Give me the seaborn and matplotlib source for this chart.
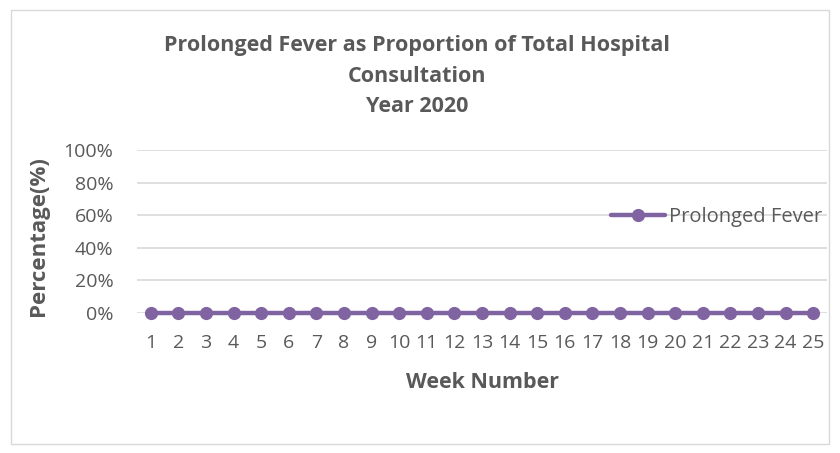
import matplotlib
matplotlib.use("Agg")
import matplotlib.pyplot as plt
import seaborn as sns
import pandas as pd
from matplotlib.patches import Rectangle

weeks = list(range(1, 26))
prolonged_fever = [0] * 25
series_name = "Prolonged Fever"
y_ticks = [0, 0.2, 0.4, 0.6, 0.8, 1.0]
y_tick_labels = ["0%", "20%", "40%", "60%", "80%", "100%"]

df = pd.DataFrame({"week": weeks, "value": prolonged_fever})

sns.set_theme(style="white")
plt.rcParams['font.family'] = ['Open Sans', 'DejaVu Sans']

fig = plt.figure(figsize=(8.4, 4.53), dpi=100)
ax = fig.add_axes([137/840, 1-313/453, (827-137)/840, (313-150)/453])

purple = "#8064A2"
gray = "#595959"

sns.lineplot(data=df, x="week", y="value", ax=ax, color=purple, linewidth=3.2,
             marker="o", markersize=9.5, markeredgewidth=0, label=series_name,
             clip_on=False, zorder=3)

ax.set_xlim(0.5, 25.5)
ax.set_ylim(0, 1)
ax.set_yticks(y_ticks)
ax.set_yticklabels(y_tick_labels)
ax.set_xticks(weeks)
ax.set_xticklabels([str(w) for w in weeks])
for y in y_ticks:
    ax.axhline(y, color="#D9D9D9", linewidth=1.2, zorder=1)
for s in ax.spines.values():
    s.set_visible(False)
ax.tick_params(axis="x", length=0, pad=15, labelsize=14, labelcolor=gray)
ax.tick_params(axis="y", length=0, pad=17, labelsize=14, labelcolor=gray)

ax.set_xlabel("Week Number", fontsize=15.5, fontweight="bold", color=gray)
ax.set_ylabel("Percentage(%)", fontsize=16, fontweight="bold", color=gray)
ax.xaxis.set_label_coords(0.5, (313-383)/(313-150), transform=ax.transAxes)
ax.xaxis.label.set_va("center")
ax.yaxis.set_label_coords((39-137)/(827-137), (313-236)/(313-150))
ax.yaxis.label.set_va("center")

fig.text(417/840, 1-76/453, "Prolonged Fever as Proportion of Total Hospital\nConsultation\nYear 2020",
         ha="center", va="center", fontsize=15.5, fontweight="bold", color=gray, linespacing=1.6)

leg = ax.legend(loc="center left", bbox_to_anchor=(603/840, 1-217/453), bbox_transform=fig.transFigure,
                frameon=False, fontsize=14.5, handlelength=2.7, handletextpad=0.2, borderaxespad=0)
for t in leg.get_texts():
    t.set_color(gray)

fig.patches.append(Rectangle((11/840, 1-444/453), (829-11)/840, (444-10)/453,
                             transform=fig.transFigure, fill=False, edgecolor="#D9D9D9", linewidth=1))

fig.savefig("out.png", dpi=100)
